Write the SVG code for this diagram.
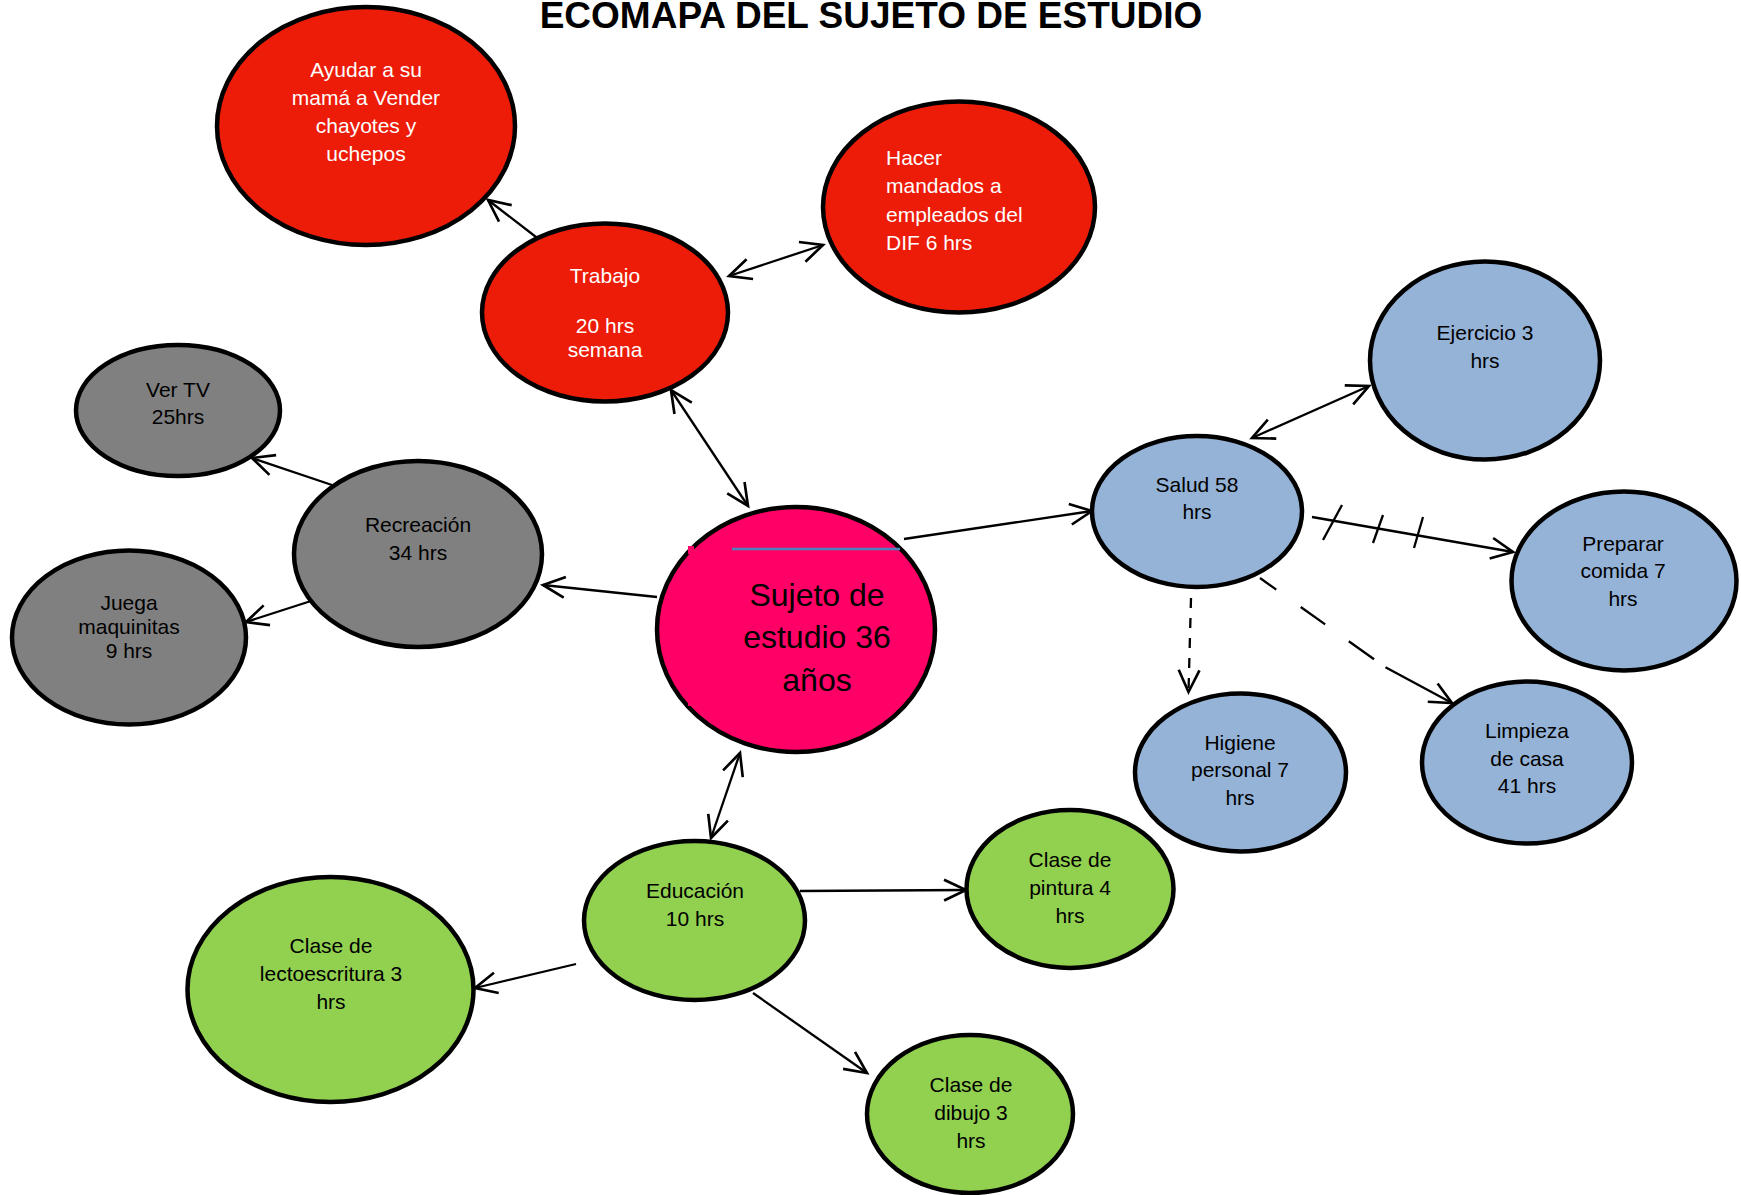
<svg xmlns="http://www.w3.org/2000/svg" width="1741" height="1195" viewBox="0 0 1741 1195">
<defs>
<style>
.n{stroke:#000;stroke-width:4.5}
.red{fill:#EC1C08}.gray{fill:#808080}.blue{fill:#95B3D7}.green{fill:#92D050}.pink{fill:#FF0066}
.t{font-family:"Liberation Sans",Arial,sans-serif;font-size:21px;fill:#000;text-anchor:middle}
.w{fill:#fff}
.c line,.c path,.c polyline{stroke:#000;stroke-width:2.3;fill:none}
</style>
<marker id="ah" markerUnits="userSpaceOnUse" markerWidth="30" markerHeight="30" viewBox="-22 -12 26 24" refX="0" refY="0" orient="auto-start-reverse">
<path d="M-19,-9 L0,0 L-19,9" fill="none" stroke="#000" stroke-width="2.3"/>
</marker>
</defs>
<rect width="1741" height="1195" fill="#fff"/>
<text x="871" y="28" font-family="Liberation Sans,Arial,sans-serif" font-size="37" font-weight="bold" text-anchor="middle" fill="#000">ECOMAPA DEL SUJETO DE ESTUDIO</text>

<g class="c" id="connectors">
<line x1="536" y1="237" x2="488" y2="200" marker-end="url(#ah)"/>
<line x1="729" y1="276" x2="823" y2="245" marker-start="url(#ah)" marker-end="url(#ah)"/>
<line x1="671" y1="390" x2="748" y2="506" marker-start="url(#ah)" marker-end="url(#ah)"/>
<line x1="332" y1="485" x2="252" y2="458" marker-end="url(#ah)"/>
<line x1="311" y1="601" x2="246" y2="622" marker-end="url(#ah)"/>
<line x1="657" y1="597" x2="543" y2="585" marker-end="url(#ah)"/>
<line x1="904" y1="539" x2="1092" y2="511" marker-end="url(#ah)"/>
<line x1="1252" y1="438" x2="1369" y2="386" marker-start="url(#ah)" marker-end="url(#ah)"/>
<line x1="1312" y1="517" x2="1513" y2="552" marker-end="url(#ah)"/>
<line x1="1342" y1="505" x2="1323" y2="540"/>
<line x1="1383" y1="515" x2="1373" y2="543"/>
<line x1="1423" y1="517" x2="1414" y2="548"/>
<line x1="1191" y1="598" x2="1188.5" y2="692" stroke-dasharray="10 10" marker-end="url(#ah)"/>
<polyline points="1260,578 1385,667 1452,703" stroke-dasharray="20 30 30 29 31 14 200" marker-end="url(#ah)"/>
<line x1="740" y1="753" x2="711" y2="838" marker-start="url(#ah)" marker-end="url(#ah)"/>
<line x1="800" y1="891" x2="966" y2="890" marker-end="url(#ah)"/>
<line x1="576" y1="964" x2="475" y2="988" marker-end="url(#ah)"/>
<line x1="753" y1="993" x2="867" y2="1073" marker-end="url(#ah)"/>
</g>

<g id="ayudar">
<ellipse class="n red" cx="366" cy="126" rx="149" ry="119"/>
<text class="t w"><tspan x="366" y="77">Ayudar a su</tspan><tspan x="366" y="105">mamá a Vender</tspan><tspan x="366" y="133">chayotes y</tspan><tspan x="366" y="161">uchepos</tspan></text>
</g>
<g id="trabajo">
<ellipse class="n red" cx="605" cy="312.5" rx="123" ry="89"/>
<text class="t w"><tspan x="605" y="283">Trabajo</tspan><tspan x="605" y="333">20 hrs</tspan><tspan x="605" y="357">semana</tspan></text>
</g>
<g id="hacer">
<ellipse class="n red" cx="959" cy="207" rx="136" ry="105.5"/>
<text class="t w" text-anchor="start" style="text-anchor:start"><tspan x="886" y="165">Hacer</tspan><tspan x="886" y="193">mandados a</tspan><tspan x="886" y="222">empleados del</tspan><tspan x="886" y="250">DIF 6 hrs</tspan></text>
</g>
<g id="vertv">
<ellipse class="n gray" cx="178" cy="410.5" rx="102" ry="65.5"/>
<text class="t"><tspan x="178" y="397">Ver TV</tspan><tspan x="178" y="424">25hrs</tspan></text>
</g>
<g id="recreacion">
<ellipse class="n gray" cx="418" cy="554" rx="124" ry="93"/>
<text class="t"><tspan x="418" y="532">Recreación</tspan><tspan x="418" y="560">34 hrs</tspan></text>
</g>
<g id="juega">
<ellipse class="n gray" cx="129" cy="637.5" rx="117" ry="87"/>
<text class="t"><tspan x="129" y="610">Juega</tspan><tspan x="129" y="634">maquinitas</tspan><tspan x="129" y="658">9 hrs</tspan></text>
</g>
<g id="sujeto">
<ellipse class="n pink" cx="796" cy="629.5" rx="139" ry="122.5"/>
<line x1="732" y1="549" x2="900" y2="549" stroke="#4F81BD" stroke-width="2.5"/>
<rect x="688" y="546" width="6" height="8" fill="#FF0066"/>
<rect x="688" y="700" width="5" height="6" fill="#FF0066"/>
<text class="t" style="font-size:32px"><tspan x="817" y="606">Sujeto de</tspan><tspan x="817" y="648">estudio 36</tspan><tspan x="817" y="691">años</tspan></text>
</g>
<g id="salud">
<ellipse class="n blue" cx="1197" cy="511.5" rx="105" ry="75.5"/>
<text class="t"><tspan x="1197" y="492">Salud 58</tspan><tspan x="1197" y="519">hrs</tspan></text>
</g>
<g id="ejercicio">
<ellipse class="n blue" cx="1485" cy="360.5" rx="115" ry="99"/>
<text class="t"><tspan x="1485" y="340">Ejercicio 3</tspan><tspan x="1485" y="368">hrs</tspan></text>
</g>
<g id="preparar">
<ellipse class="n blue" cx="1624" cy="581" rx="112.5" ry="89.5"/>
<text class="t"><tspan x="1623" y="551">Preparar</tspan><tspan x="1623" y="578">comida 7</tspan><tspan x="1623" y="606">hrs</tspan></text>
</g>
<g id="higiene">
<ellipse class="n blue" cx="1240.5" cy="772.5" rx="105.5" ry="79"/>
<text class="t"><tspan x="1240" y="750">Higiene</tspan><tspan x="1240" y="777">personal 7</tspan><tspan x="1240" y="805">hrs</tspan></text>
</g>
<g id="limpieza">
<ellipse class="n blue" cx="1527" cy="762.5" rx="105" ry="81"/>
<text class="t"><tspan x="1527" y="738">Limpieza</tspan><tspan x="1527" y="766">de casa</tspan><tspan x="1527" y="793">41 hrs</tspan></text>
</g>
<g id="educacion">
<ellipse class="n green" cx="694.5" cy="920.5" rx="110.5" ry="79.5"/>
<text class="t"><tspan x="695" y="898">Educación</tspan><tspan x="695" y="926">10 hrs</tspan></text>
</g>
<g id="pintura">
<ellipse class="n green" cx="1070" cy="889" rx="103.5" ry="79"/>
<text class="t"><tspan x="1070" y="867">Clase de</tspan><tspan x="1070" y="895">pintura 4</tspan><tspan x="1070" y="923">hrs</tspan></text>
</g>
<g id="lectoescritura">
<ellipse class="n green" cx="330.5" cy="989.5" rx="143" ry="112.5"/>
<text class="t"><tspan x="331" y="953">Clase de</tspan><tspan x="331" y="981">lectoescritura 3</tspan><tspan x="331" y="1009">hrs</tspan></text>
</g>
<g id="dibujo">
<ellipse class="n green" cx="970" cy="1114" rx="103" ry="79"/>
<text class="t"><tspan x="971" y="1092">Clase de</tspan><tspan x="971" y="1120">dibujo 3</tspan><tspan x="971" y="1148">hrs</tspan></text>
</g>
</svg>
